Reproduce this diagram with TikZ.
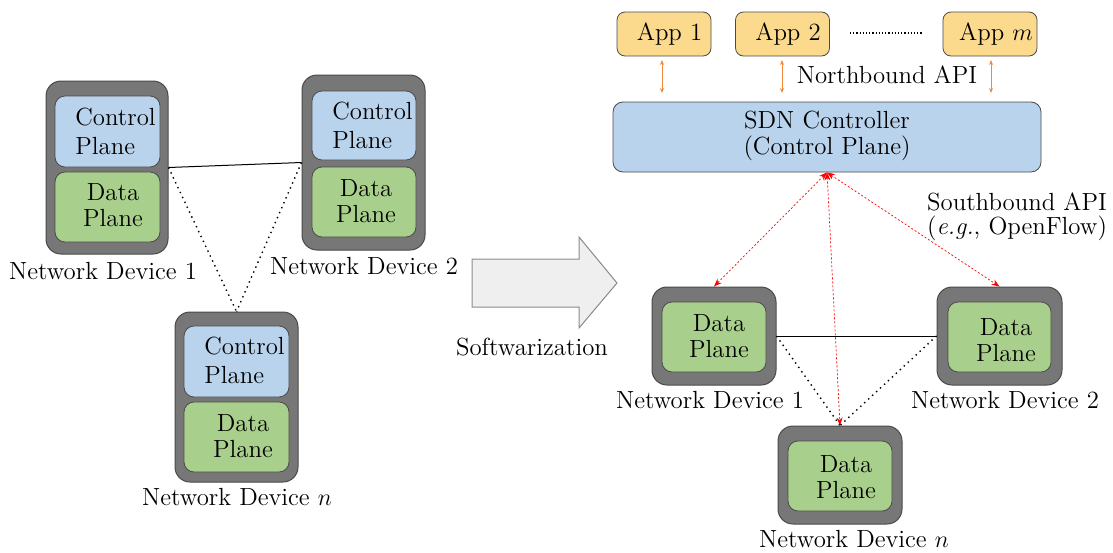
\documentclass[tikz,border=0pt]{standalone}
\usetikzlibrary{arrows.meta}
\definecolor{devgray}{HTML}{777777}
\definecolor{devedge}{HTML}{4A4A4A}
\definecolor{cblue}{HTML}{B9D3EC}
\definecolor{dgreen}{HTML}{A8D08C}
\definecolor{appyel}{HTML}{FBDA8E}
\definecolor{arrfill}{HTML}{EFEFEF}
\definecolor{arredge}{HTML}{8A8A8A}
\definecolor{nbor}{HTML}{F08A3A}
\begin{document}
\begin{tikzpicture}[x=0.5pt,y=-0.5pt,
  every node/.style={font=\fontsize{12.4}{13.2}\selectfont},
  outerbox/.style={draw=devedge, fill=devgray, rounded corners=7.5pt, line width=0.5pt, inner sep=0pt},
  ctrlbox/.style={draw=devedge, fill=cblue, rounded corners=5pt, line width=0.4pt, inner sep=0pt, minimum width=52.5pt, minimum height=35.5pt},
  databox/.style={draw=devedge, fill=dgreen, rounded corners=5pt, line width=0.4pt, inner sep=0pt, minimum width=52.5pt, minimum height=35pt},
  appbox/.style={draw=devedge, fill=appyel, rounded corners=4pt, line width=0.4pt, inner sep=0pt, minimum width=47pt, minimum height=22pt},
  txt/.style={inner sep=0pt, align=center},
  ltxt/.style={inner sep=0pt, align=left, anchor=west, font=\fontsize{12.4}{14.5}\selectfont},
  link/.style={line width=0.5pt, black},
  dlink/.style={line width=0.7pt, black, dotted},
  nb/.style={nbor, line width=0.35pt, {Stealth[length=2.5pt,width=2pt]}-{Stealth[length=2.5pt,width=2pt]}},
  sb/.style={red, line width=0.35pt, dash pattern=on 1pt off 1pt, {Stealth[length=4pt,width=3pt]}-{Stealth[length=4pt,width=3pt]}},
]
\useasboundingbox (0,0) rectangle (1113,552);

% ---------------- Left: traditional network ----------------
\node[outerbox, minimum width=61pt, minimum height=86.5pt] (L1) at (107,167.5) {};
\node[ctrlbox] (L1c) at (107.5,131.5) {};
\node[databox] (L1d) at (107.5,207) {};
\node[ltxt] (L1ct) at (75,131.5) {Control\\Plane};
\node[txt] (L1dt) at (113,205) {Data\\Plane};
\node[txt] (L1l) at (103,271) {Network Device 1};

\node[outerbox, minimum width=61.5pt, minimum height=87.5pt] (L2) at (363.5,162.5) {};
\node[ctrlbox, minimum width=52pt, minimum height=34.5pt] (L2c) at (364,125.5) {};
\node[databox, minimum width=52pt] (L2d) at (364,202) {};
\node[ltxt] (L2ct) at (332,125.5) {Control\\Plane};
\node[txt] (L2dt) at (366,201) {Data\\Plane};
\node[txt] (L2l) at (364,266) {Network Device 2};

\node[outerbox, minimum width=61.5pt, minimum height=85pt] (Ln) at (236.5,397) {};
\node[ctrlbox] (Lnc) at (236.5,361.5) {};
\node[databox] (Lnd) at (236.5,437) {};
\node[ltxt] (Lnct) at (204,360) {Control\\Plane};
\node[txt] (Lndt) at (243,436) {Data\\Plane};
\node[txt] (Lnl) at (237,497) {Network Device $n$};

\draw[link] (L1.east) -- (L2.west);
\coordinate (Ltop) at (Ln.north);
\draw[dlink] (L1.east) -- (Ltop);
\draw[dlink] (L2.west) -- (Ltop);

% ---------------- Softwarization arrow ----------------
\draw[fill=arrfill, draw=arredge, line width=0.5pt]
  (472,259) -- (579,259) -- (579,237) -- (617,283) -- (579,328) -- (579,307) -- (472,307) -- cycle;
\node[txt] (soft) at (532,347) {Softwarization};

% ---------------- Right: SDN ----------------
\node[appbox] (A1) at (664,34) {};
\node[txt] (A1t) at (669.5,34) {App 1};
\node[appbox] (A2) at (782.5,34) {};
\node[txt] (A2t) at (788,34) {App 2};
\node[appbox] (Am) at (990,34) {};
\node[txt] (Amt) at (996,34) {App $m$};
\coordinate (dotL) at (850,33);
\coordinate (dotR) at (922,33);
\draw[densely dotted, line width=0.6pt] (dotL) -- (dotR);

\node[draw=devedge, fill=cblue, rounded corners=5pt, line width=0.4pt, inner sep=0pt,
      minimum width=214pt, minimum height=35pt] (ctrl) at (827,137) {};
\node[txt] (ctrlt) at (827,136) {SDN Controller\\(Control Plane)};

\coordinate (n1a) at (662,60); \coordinate (n1b) at (662,93);
\coordinate (n2a) at (782,60); \coordinate (n2b) at (782,93);
\coordinate (n3a) at (991,60); \coordinate (n3b) at (991,93);
\draw[nb] (n1a) -- (n1b);
\draw[nb] (n2a) -- (n2b);
\draw[nb] (n3a) -- (n3b);
\node[txt] (nbt) at (887,75) {Northbound API};

\node[outerbox, minimum width=62pt, minimum height=49pt] (R1) at (714,336) {};
\node[databox, minimum width=52pt] (R1d) at (714,337) {};
\node[txt] (R1dt) at (719,336) {Data\\Plane};
\node[txt] (R1l) at (710,400) {Network Device 1};

\node[outerbox, minimum width=62.5pt, minimum height=49pt] (R2) at (999.5,336) {};
\node[databox, minimum width=51.5pt] (R2d) at (999.5,337) {};
\node[txt] (R2dt) at (1006,340) {Data\\Plane};
\node[txt] (R2l) at (1005,400) {Network Device 2};

\node[outerbox, minimum width=62pt, minimum height=49pt] (Rn) at (840,475) {};
\node[databox, minimum width=52pt] (Rnd) at (840,476) {};
\node[txt] (Rndt) at (846,477) {Data\\Plane};
\node[txt] (Rnl) at (854,539) {Network Device $n$};

\draw[link] (R1.east) -- (R2.west);
\draw[dlink] (R1.east) -- (Rn.north);
\draw[dlink] (R2.west) -- (Rn.north);

\draw[sb] (ctrl.south) -- (R1.north);
\draw[sb] (ctrl.south) -- (R2.north);
\draw[sb] (ctrl.south) -- (Rn.north);

\node[txt, font=\fontsize{12.4}{12.2}\selectfont] (sbt) at (1017,217) {Southbound API\\(\textit{e.g.}, OpenFlow)};
\end{tikzpicture}
\end{document}
